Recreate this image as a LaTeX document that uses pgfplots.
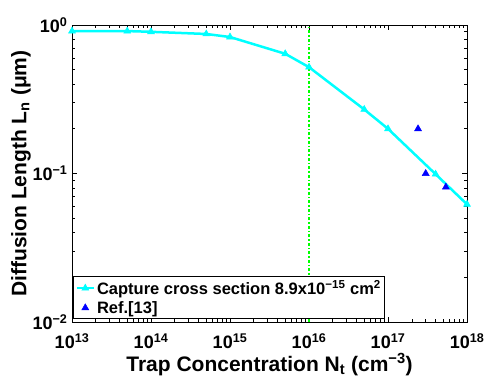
\documentclass[border=0pt]{standalone}
\usepackage{fontspec}
\setmainfont{Liberation Sans}
\usepackage{pgfplots}
\pgfplotsset{compat=1.18}
\definecolor{mcyan}{rgb}{0,1,1}
\definecolor{mgreen}{rgb}{0,1,0}
\definecolor{mblue}{rgb}{0,0,1}
\begin{document}
\begin{tikzpicture}
\begin{axis}[
 xmode=log, ymode=log,
 scale only axis, width=395pt, height=297pt,
 xmin=1e13, xmax=1e18, ymin=1e-2, ymax=1,
 xtick={1e13,1e14,1e15,1e16,1e17,1e18},
 xticklabels={10\textsuperscript{13},10\textsuperscript{14},10\textsuperscript{15},10\textsuperscript{16},10\textsuperscript{17},10\textsuperscript{18}},
 ytick={1e-2,1e-1,1},
 yticklabels={10\textsuperscript{−2},10\textsuperscript{−1},10\textsuperscript{0}},
 ticklabel style={font=\fontsize{18}{18}\selectfont\bfseries},
 xticklabel style={yshift=-8pt},
 yticklabel style={xshift=-1pt},
 xlabel={Trap Concentration N\textsubscript{t} (cm\textsuperscript{−3})},
 ylabel={Diffusion Length L\textsubscript{n} (μm)},
 label style={font=\fontsize{21}{21}\selectfont\bfseries},
 xlabel style={yshift=2pt},
 ylabel style={yshift=-5pt},
 axis line style={line width=1pt},
 major tick length=5pt, minor tick length=3pt,
 tick style={black, line width=0.6pt},
 legend style={at={(0.0025,0.01)}, anchor=south west, font=\fontsize{16.5}{19}\selectfont\bfseries, draw=black, line width=1pt, inner sep=2pt, row sep=1pt},
 legend cell align=left,
]
\addplot[mcyan, line width=2.5pt, mark=triangle*, mark size=4pt, mark options={fill=mcyan, line width=0.5pt}] coordinates {
 (1e13,0.91) (5e13,0.91) (1e14,0.90) (5e14,0.87) (1e15,0.83) (5e15,0.64) (1e16,0.52) (5e16,0.27) (1e17,0.20) (4e17,0.099) (1e18,0.062)
};
\addlegendentry{Capture cross section 8.9x10\textsuperscript{−15} cm\textsuperscript{2}}
\addplot[only marks, mblue, mark=triangle*, mark size=4pt, mark options={fill=mblue, line width=0.5pt}] coordinates {
 (2.4e17,0.20) (3e17,0.10) (5.4e17,0.081)
};
\addlegendentry{Ref.[13]}
\addplot[mgreen, line width=1.5pt, dash dot, forget plot] coordinates {(1e16,1e-2) (1e16,1)};
\end{axis}
\pgfresetboundingbox
\useasboundingbox (-72pt,-58pt) rectangle (412pt,322pt);
\end{tikzpicture}
\end{document}
